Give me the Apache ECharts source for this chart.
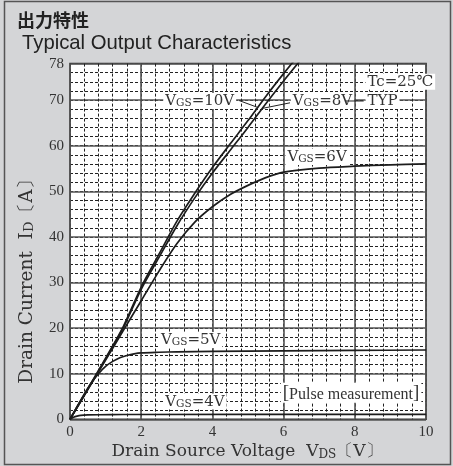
<!DOCTYPE html>
<html><head><meta charset="utf-8">
<script src="https://cdn.jsdelivr.net/npm/echarts@6/dist/echarts.min.js"></script>
<style>html,body{margin:0;padding:0;background:#d4d5d7;}#c{width:453px;height:466px;}</style>
</head><body><div id="c"></div>
<script>
// ---- data (VDS in V, ID in A) ----
const vds10 = [0,0.5,1,1.5,2,2.5,3,3.5,4,4.5,5,5.5,6,6.5];
const id10  = [0,6.7,13.4,20.4,29,36.2,43.4,49.5,55.2,60.4,65.5,70.8,75.8,80.6];
const vds8  = [0,0.5,1,1.5,2,2.5,3,3.5,4,4.5,5,5.5,6,6.5];
const id8   = [0,6.6,13.2,20.1,28.5,35.5,42.4,48.5,54,59,64,69.2,74.2,79];
const vds6  = [0,0.5,1,1.5,2,2.5,3,3.5,4,4.5,5,5.5,6,7,8,9,10];
const id6   = [0,6.5,13,19.5,26,32.5,38.5,43.2,46.6,49.3,51.3,53,54.2,55.1,55.5,55.8,56];
const vds5  = [0,0.2,0.4,0.6,0.8,1,1.2,1.4,1.6,1.8,2,2.5,3,4,6,8,10];
const id5   = [0,2.8,5.5,8,10,11.6,12.7,13.5,14,14.35,14.55,14.7,14.8,14.9,15,15.1,15.2];
const vds4  = [0,0.1,0.2,0.3,0.5,0.8,1.5,10];
const id4   = [0,0.45,0.7,0.85,0.95,1.0,1.05,1.1];
const xTickLabels = [0,2,4,6,8,10];
const yTickLabels = [0,10,20,30,40,50,60,70,78];
const titleJa = '出力特性';
const titleEn = 'Typical Output Characteristics';

const SERIF = "'Liberation Serif','Times New Roman',serif";
const SERIF2 = "'DejaVu Serif',serif";
const TXT = '#333';
const pts = (xs, ys) => xs.map((x, i) => [x, ys[i]]);
const near = (v, arr) => arr.some(a => Math.abs(a - v) < 1e-6);

const chart = echarts.init(document.getElementById('c'));
const curve = (name, xs, ys) => ({
  name, type: 'line', data: pts(xs, ys), showSymbol: false, smooth: 0.3,
  lineStyle: { color: '#1c1c1c', width: 1.7 }, z: 5, silent: true
});
chart.setOption({
  animation: false,
  backgroundColor: '#d4d5d7',
  grid: { left: 70, top: 63.6, right: 27, bottom: 46.7, show: true, backgroundColor: '#fff', borderColor: '#333', borderWidth: 1.5 },
  xAxis: [
    { type: 'value', min: 0, max: 10, interval: 0.4, axisLine: { show: false }, axisTick: { show: false },
      splitLine: { show: true, lineStyle: { color: '#222', width: 1, type: [3, 2] } },
      axisLabel: { margin: 5, fontFamily: SERIF, fontSize: 15, color: TXT,
        formatter: v => near(v, xTickLabels) ? String(Math.round(v)) : '' } },
    { type: 'value', min: 0, max: 10, interval: 2, axisLine: { show: false }, axisTick: { show: false },
      axisLabel: { show: false }, splitLine: { show: true, lineStyle: { color: '#555', width: 1.6 } } }
  ],
  yAxis: [
    { type: 'value', min: 0, max: 78, interval: 2, axisLine: { show: false }, axisTick: { show: false },
      splitLine: { show: true, lineStyle: { color: '#222', width: 1, type: [3, 2] } },
      axisLabel: { margin: 6, fontFamily: SERIF, fontSize: 15, color: TXT,
        formatter: v => near(v, yTickLabels) ? String(Math.round(v)) : '' } },
    { type: 'value', min: 0, max: 78, interval: 10, axisLine: { show: false }, axisTick: { show: false },
      axisLabel: { show: false }, splitLine: { show: true, lineStyle: { color: '#555', width: 1.6 } } }
  ],
  series: [
    curve('10V', vds10, id10), curve('8V', vds8, id8), curve('6V', vds6, id6),
    curve('5V', vds5, id5), curve('4V', vds4, id4)
  ]
});

// annotations anchored in data coordinates
const P = (x, y) => chart.convertToPixel({ gridIndex: 0 }, [x, y]);
const rich = { b: { fontSize: 15, fontFamily: SERIF2, fill: TXT, verticalAlign: 'bottom' },
               s: { fontSize: 10.5, fontFamily: SERIF2, fill: TXT, verticalAlign: 'bottom' },
               t: { fontSize: 16, fontFamily: SERIF, fill: TXT, verticalAlign: 'bottom' },
               k: { fontSize: 19, fontFamily: SERIF, fill: TXT, verticalAlign: 'bottom' } };
function label(text, x, y, extra) {
  const p = P(x, y);
  return Object.assign({ type: 'text', x: p[0], y: p[1], z: 20,
    style: Object.assign({ text, rich, fontSize: 15, fontFamily: SERIF2, fill: TXT, align: 'left', verticalAlign: 'middle',
      backgroundColor: '#fff', padding: [1, 2, 0, 2] }, extra || {}) });
}
function seg(a, b) {
  const p1 = P(a[0], a[1]), p2 = P(b[0], b[1]);
  return { type: 'line', z: 21, shape: { x1: p1[0], y1: p1[1], x2: p2[0], y2: p2[1] }, style: { stroke: '#222', lineWidth: 1 } };
}
const g = [];
g.push(label('{b|V}{s|GS}{b|=10V}', 2.62, 69.8));
g.push(label('{b|V}{s|GS}{b|=8V}', 6.2, 69.8));
g.push(label('{b|TYP}', 8.3, 69.8));
g.push(label('{b|Tc=25℃}', 8.3, 74.0));
g.push(label('{b|V}{s|GS}{b|=6V}', 6.05, 57.5));
g.push(label('{b|V}{s|GS}{b|=5V}', 2.5, 17.4));
g.push(label('{b|V}{s|GS}{b|=4V}', 2.62, 3.9));
g.push(label('{k|[}{t|Pulse measurement}{k|]}', 5.92, 5.8));
g.push(seg([4.75, 69.9], [5.27, 68.4]));
g.push(seg([6.18, 69.4], [5.42, 68.2]));
g.push(seg([7.75, 69.8], [8.25, 69.8]));
// titles & axis names
g.push({ type: 'text', x: 17, y: 20, style: { text: titleJa, fontSize: 18, fontWeight: 'bold', fontFamily: "'Noto Sans CJK JP',sans-serif", fill: '#222', verticalAlign: 'middle' } });
g.push({ type: 'text', x: 22, y: 43, style: { text: titleEn, fontSize: 20.3, fontFamily: "'Liberation Sans',Arial,sans-serif", fill: '#222', verticalAlign: 'middle' } });
const nameRich = { b: { fontSize: 17, fontFamily: SERIF2, fill: TXT, verticalAlign: 'bottom' },
                   s: { fontSize: 12, fontFamily: SERIF2, fill: TXT, verticalAlign: 'bottom' } };
const nameRichY = { b: { fontSize: 18.5, fontFamily: SERIF2, fill: TXT, verticalAlign: 'bottom' },
                    s: { fontSize: 13, fontFamily: SERIF2, fill: TXT, verticalAlign: 'bottom' } };
g.push({ type: 'text', x: 247, y: 452, style: { text: '{b|Drain Source Voltage  V}{s|DS}{b|〔V〕}', rich: nameRich, align: 'center', verticalAlign: 'middle' } });
g.push({ type: 'text', x: 27, y: 277, rotation: Math.PI / 2, style: { text: '{b|Drain Current  I}{s|D}{b|〔A〕}', rich: nameRichY, align: 'center', verticalAlign: 'middle' } });
g.push({ type: 'rect', shape: { x: 4.5, y: 1.5, width: 446, height: 463 }, style: { fill: 'none', stroke: '#555', lineWidth: 1.5 }, z: 30 });
chart.setOption({ graphic: g });
</script></body></html>
